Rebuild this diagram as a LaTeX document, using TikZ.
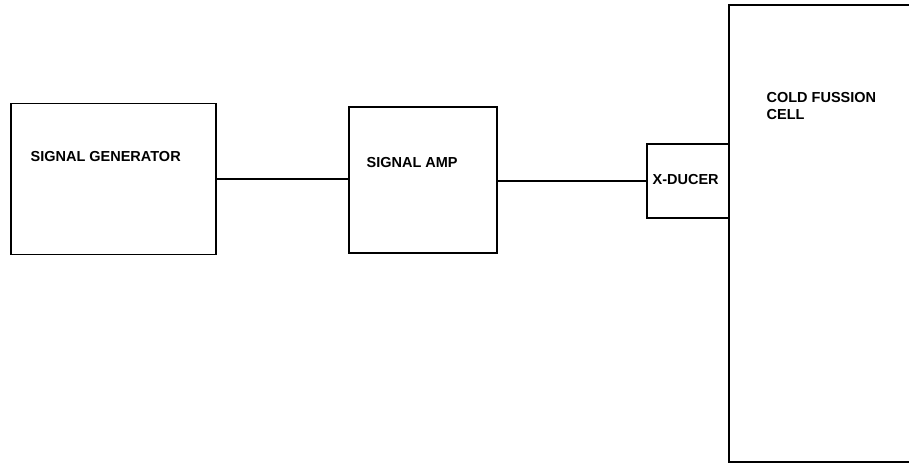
\documentclass[tikz,border=0pt]{standalone}
\usepackage{fontspec}
\setmainfont{Liberation Sans}
\usetikzlibrary{positioning}

\begin{document}
\begin{tikzpicture}[x=1pt,y=-1pt,line width=1.2pt,
  blk/.style={draw,rectangle,inner sep=0pt},
  lbl/.style={inner sep=0pt,font=\fontsize{14.5}{17}\selectfont\bfseries,align=left}]
\clip (0,0) rectangle (909,464);
% blocks
\node[blk,minimum width=205pt,minimum height=151pt] (gen) at (113.5,179) {};
\node[blk,minimum width=148pt,minimum height=146pt] (amp) at (423,180) {};
\node[blk,minimum width=82pt,minimum height=74pt] (xducer) at (688,181) {};
\node[blk,minimum width=221pt,minimum height=457pt] (cell) at (839.5,233.5) {};
% labels, upper left in each block
\node[lbl,anchor=base west] (genlbl) at (30,161) {SIGNAL GENERATOR};
\node[lbl,anchor=base west] (amplbl) at (366,167) {SIGNAL AMP};
\node[lbl,anchor=base west] (xducerlbl) at (652,184) {X-DUCER};
\node[lbl,anchor=north west] (celllbl) at (766,91.5) {COLD FUSSION\\CELL};
% wiring
\draw (gen.east) -- (gen.east -| amp.west);
\draw (amp.east |- xducer.west) -- (xducer.west);
\end{tikzpicture}
\end{document}
